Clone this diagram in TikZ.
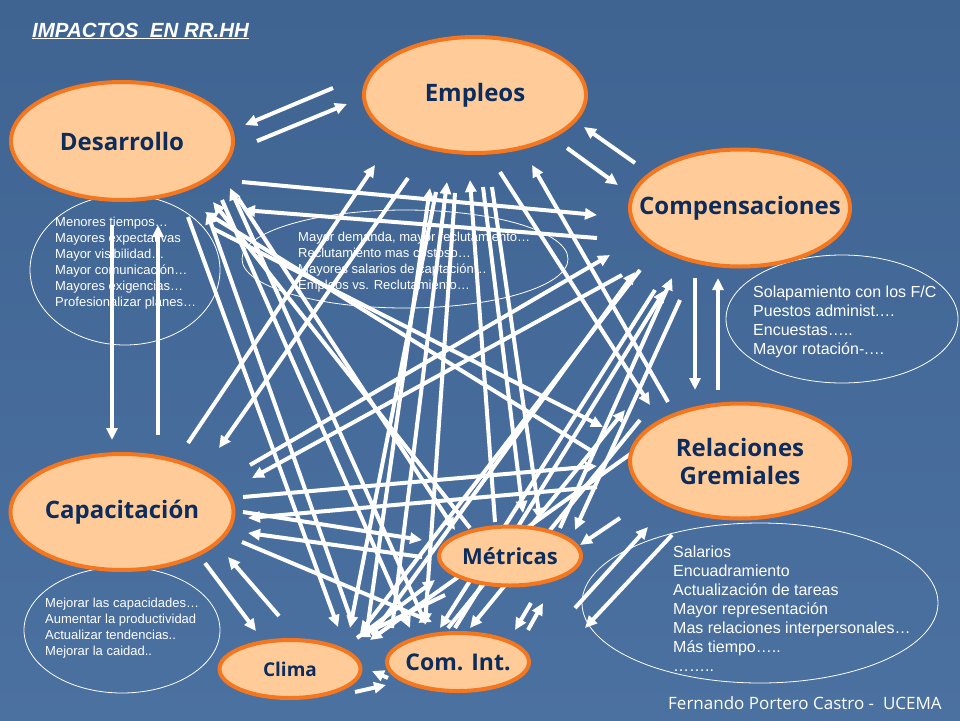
\documentclass[tikz,border=0pt]{standalone}
\usepackage{fontspec}
\setmainfont{Liberation Sans}
\newfontfamily\lblfont{Open Sans}
\usetikzlibrary{shapes.geometric,arrows.meta}
\definecolor{peach}{HTML}{FFCC99}
\definecolor{orng}{HTML}{F4761E}
\definecolor{navy}{HTML}{0B2C5C}
\definecolor{bgtop}{HTML}{3F6492}
\definecolor{bgmid}{HTML}{5A82B2}
\definecolor{bgbot}{HTML}{4B71A1}
\begin{document}
\begin{tikzpicture}[x=1pt,y=-1pt,
 topic/.style={ellipse, draw=orng, line width=4pt, fill=peach, inner sep=0pt, text=navy,
   font=\lblfont\bfseries\fontsize{24}{28}\selectfont, align=center},
 wa/.style={draw=white, line width=4pt, -{Triangle[length=12pt,width=11pt]}},
 ring/.style={draw=white, line width=0.8pt},
 note/.style={text=white, anchor=base west, inner sep=0pt, font=\fontsize{13}{16}\selectfont},
 bignote/.style={note, font=\fontsize{16}{19}\selectfont}]
\useasboundingbox (0,0) rectangle (960,720);
\shade[top color=bgtop, middle color=bgmid, bottom color=bgbot] (0,0) rectangle (960,720);

% outline ellipses
\draw[ring] (125,270) ellipse [x radius=95, y radius=75];
\draw[ring] (405,259) ellipse [x radius=163, y radius=49];
\draw[ring] (842,319) ellipse [x radius=116, y radius=64];
\draw[ring] (122,630) ellipse [x radius=98, y radius=63];
\draw[ring] (760,603) ellipse [x radius=178, y radius=80];

% title and footer
\node[anchor=base west, inner sep=0pt, text=white, font=\bfseries\itshape\fontsize{20.5}{24}\selectfont] (title) at (32,37) {\underline{IMPACTOS~ EN RR.HH}};
\node[anchor=base west, inner sep=0pt, text=white, font=\lblfont\fontsize{17}{20}\selectfont] (footer) at (668,709) {Fernando Portero Castro -~ UCEMA};

% notes
\foreach \t [count=\i] in {Menores tiempos\dots, Mayores expectativas, Mayor visibilidad\dots, Mayor comunicación\dots, Mayores exigencias\dots, Profesionalizar planes\dots}
  \node[note] (na\i) at (55,210+16*\i) {\t};
\foreach \t [count=\i] in {{Mayor demanda, mayor reclutamiento\dots}, Reclutamiento mas costoso\dots, Mayores salarios de captación\dots, Empleos vs. Reclutamiento\dots}
  \node[note] (nb\i) at (298,225+16*\i) {\t};
\foreach \t [count=\i] in {Solapamiento con los F/C, Puestos administ.\dots, Encuestas\dots.., Mayor rotación-.\dots}
  \node[bignote] (nc\i) at (753,278+19*\i) {\t};
\foreach \t [count=\i] in {Mejorar las capacidades\dots, Aumentar la productividad, Actualizar tendencias.., Mejorar la caidad..}
  \node[note] (nd\i) at (45,591+16*\i) {\t};
\foreach \t [count=\i] in {Salarios, Encuadramiento, Actualización de tareas, Mayor representación, Mas relaciones interpersonales\dots, Más tiempo\dots.., \dots\dots..}
  \node[bignote] (ne\i) at (673,538+19*\i) {\t};

% arrows
\draw[wa] (333,88) -- (245,125);
\draw[wa] (257,141) -- (347,104);
\draw[wa] (635,163) -- (584,127);
\draw[wa] (567,148) -- (618,185);
\draw[wa] (112,225) -- (112,440);
\draw[wa] (158,435) -- (158,225);
\draw[wa] (695,278) -- (695,390);
\draw[wa] (718,390) -- (718,278);
\draw[wa] (205,563) -- (256,631);
\draw[wa] (279,616) -- (228,557);
\draw[wa] (355,692) -- (386,685);
\draw[wa] (388,678) -- (372,671);
\draw[wa] (531,603) -- (515,630);
\draw[wa] (528,630) -- (543,603);
\draw[wa] (597,238) -- (243,210);
\draw[wa] (242,182) -- (597,215);
\draw[wa] (212,228) -- (603,427);
\draw[wa] (590,450) -- (205,212);
\draw[wa] (238,198) -- (455,530);
\draw[wa] (470,528) -- (213,202);
\draw[wa] (188,217) -- (338,627);
\draw[wa] (352,622) -- (207,212);
\draw[wa] (222,200) -- (410,628);
\draw[wa] (425,622) -- (230,188);
\draw[wa] (188,443) -- (375,165);
\draw[wa] (408,178) -- (219,448);
\draw[wa] (367,630) -- (430,188);
\draw[wa] (455,193) -- (425,625);
\draw[wa] (392,628) -- (447,182);
\draw[wa] (436,192) -- (350,628);
\draw[wa] (483,187) -- (523,513);
\draw[wa] (492,187) -- (540,520);
\draw[wa] (495,522) -- (470,180);
\draw[wa] (500,172) -- (650,405);
\draw[wa] (668,402) -- (532,165);
\draw[wa] (250,465) -- (610,255);
\draw[wa] (622,275) -- (252,478);
\draw[wa] (640,270) -- (360,633);
\draw[wa] (372,635) -- (635,272);
\draw[wa] (655,290) -- (440,628);
\draw[wa] (455,628) -- (665,290);
\draw[wa] (560,528) -- (672,278);
\draw[wa] (680,300) -- (575,530);
\draw[wa] (243,497) -- (597,466);
\draw[wa] (597,487) -- (248,518);
\draw[wa] (243,512) -- (422,540);
\draw[wa] (422,557) -- (248,533);
\draw[wa] (242,542) -- (432,622);
\draw[wa] (640,420) -- (470,628);
\draw[wa] (448,628) -- (625,410);
\draw[wa] (650,440) -- (370,640);
\draw[wa] (357,638) -- (435,580);
\draw[wa] (445,595) -- (358,637);
\draw[wa] (575,608) -- (648,527);
\draw[wa] (672,535) -- (585,628);
\draw[wa] (620,518) -- (580,545);

% topic nodes
\node[topic, minimum width=222pt, minimum height=118pt] (des) at (122,141) {\makebox[0pt]{Desarrollo}};
\node[topic, minimum width=222pt, minimum height=116pt] (emp) at (475,95) {\makebox[0pt]{Empleos}};
\node[topic, minimum width=220pt, minimum height=117pt] (com) at (740,208) {\makebox[0pt]{Compensaciones}};
\node[topic, minimum width=220pt, minimum height=115pt] (rel) at (740,461) {\makebox[0pt]{Relaciones}\\\makebox[0pt]{Gremiales}};
\node[topic, minimum width=223pt, minimum height=116pt] (cap) at (122,512) {\makebox[0pt]{Capacitación}};
\node[topic, minimum width=142pt, minimum height=59pt, font=\lblfont\bfseries\fontsize{22}{26}\selectfont] (met) at (510,556) {\makebox[0pt]{Métricas}};
\node[topic, minimum width=142pt, minimum height=58pt, font=\lblfont\bfseries\fontsize{23}{26}\selectfont] (cin) at (458,662) {\makebox[0pt]{Com. Int.}};
\node[topic, minimum width=141pt, minimum height=58pt, font=\lblfont\bfseries\fontsize{19}{22}\selectfont] (cli) at (290,669) {\makebox[0pt]{Clima}};
\end{tikzpicture}
\end{document}
